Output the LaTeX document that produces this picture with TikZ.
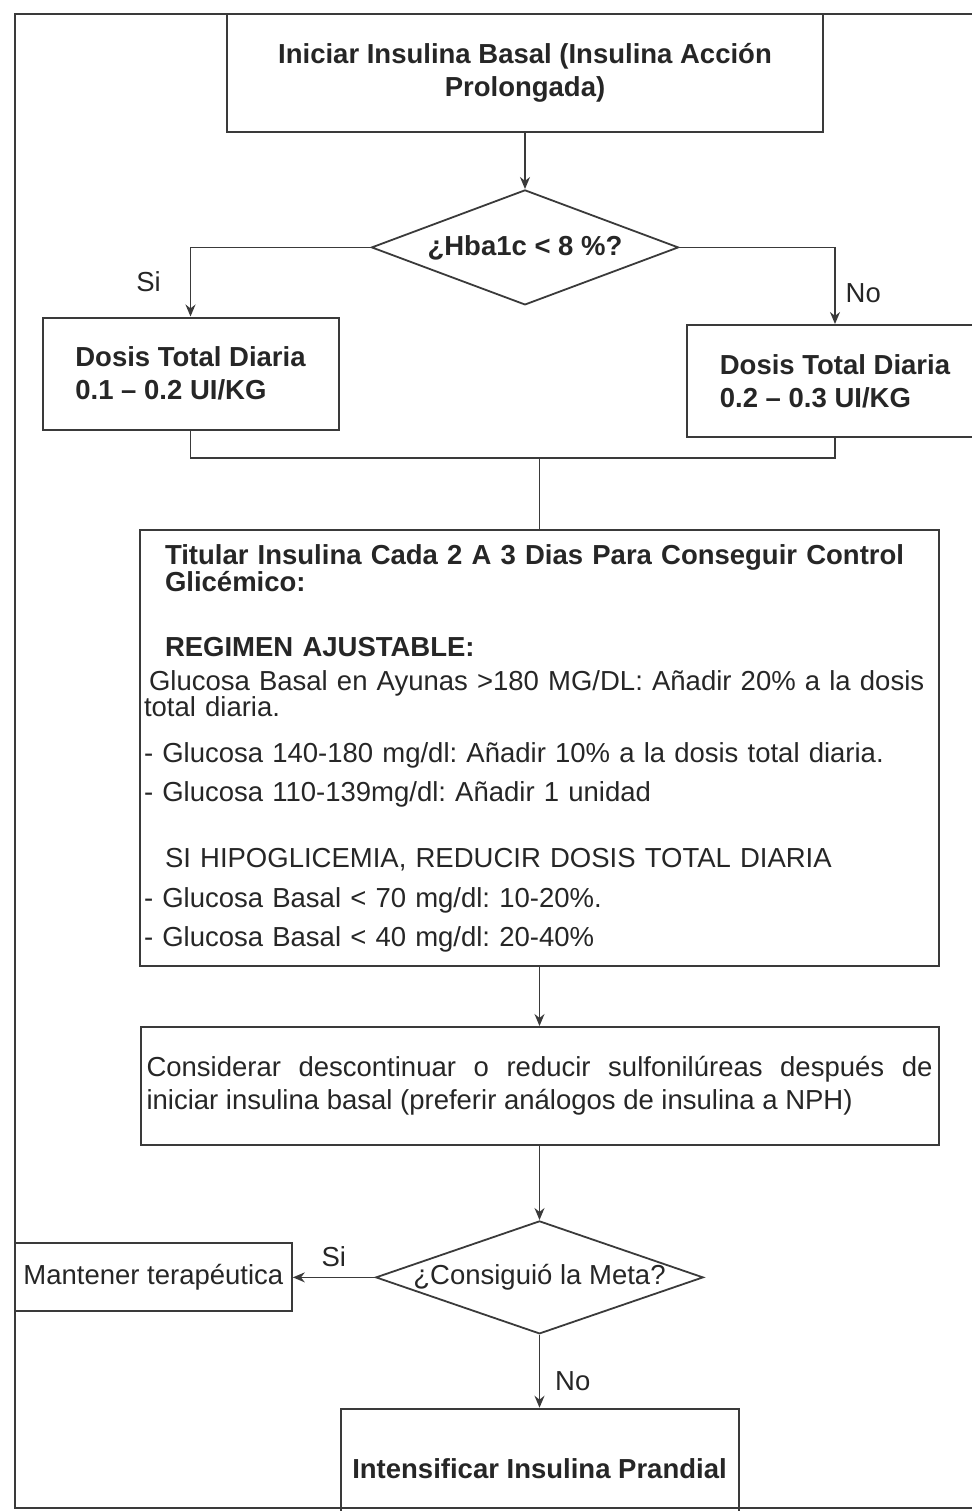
\documentclass[tikz,border=0pt]{standalone}
\usepackage{fontspec}
\setmainfont{Liberation Sans}
\usepackage{tikz}
\usetikzlibrary{arrows.meta,positioning,shapes.geometric}
\definecolor{ink}{HTML}{262626}
\definecolor{edge}{HTML}{3A3A3A}
\newcommand{\flowfont}{\fontsize{13.75}{16.5}\selectfont\frenchspacing}

\begin{document}
\begin{tikzpicture}[
  node distance=30pt and 40pt,
  every node/.style={font=\flowfont,text=ink,align=center},
  box/.style={draw=edge,line width=1pt,inner sep=0pt},
  decision/.style={diamond,draw=edge,line width=0.9pt,inner sep=0pt,aspect=2.9},
  dosebox/.style={box,inner xsep=16pt,align=left,minimum width=148pt,minimum height=56pt},
  label/.style={inner sep=0pt},
  arrow/.style={-{Stealth[length=6pt,width=5pt]},line width=0.7pt,draw=edge},
  line/.style={line width=0.7pt,draw=edge},
  frame/.style={line width=0.9pt,draw=edge}
]
\useasboundingbox (0,0) rectangle (486pt,-755.5pt);
\draw[frame] (486pt,-7pt) -| (7.5pt,-754pt) -- (486pt,-754pt);

\node[box,font=\flowfont\bfseries,minimum width=298pt,minimum height=59pt] (start) at (262.5pt,-36.5pt)
  {Iniciar Insulina Basal (Insulina Acción\\Prolongada)};
\node[decision,font=\flowfont\bfseries,minimum width=153.5pt,minimum height=57.5pt,below=28pt of start] (hba)
  {¿Hba1c < 8 \%?};
\node[dosebox,font=\flowfont\bfseries] (lowdose) at (95.25pt,-186.75pt) {Dosis Total Diaria\\0.1 – 0.2 UI/KG};
\node[dosebox,font=\flowfont\bfseries] (highdose) at (417.5pt,-190.5pt) {Dosis Total Diaria\\0.2 – 0.3 UI/KG};

\node[box,align=left,inner xsep=2pt,text width=395.5pt,minimum width=399.5pt,minimum height=218pt] (titrate) at (269.75pt,-374pt)
  {\hspace*{10.5pt}\textbf{Titular Insulina Cada 2 A 3 Dias Para Conseguir Control}\\[-3pt]
   \hspace*{10.5pt}\textbf{Glicémico:}\\[16pt]
   \hspace*{10.5pt}\textbf{REGIMEN AJUSTABLE:}\\[0.5pt]
   \hspace*{2.5pt}Glucosa Basal en Ayunas >180 MG/DL: Añadir 20\% a la dosis\\[-3.5pt]
   total diaria.\\[6.5pt]
   - Glucosa 140-180 mg/dl: Añadir 10\% a la dosis total diaria.\\[3pt]
   - Glucosa 110-139mg/dl: Añadir 1 unidad\\[16.5pt]
   \hspace*{10.5pt}SI HIPOGLICEMIA, REDUCIR DOSIS TOTAL DIARIA\\[3.5pt]
   - Glucosa Basal < 70 mg/dl: 10-20\%.\\[3pt]
   - Glucosa Basal < 40 mg/dl: 20-40\%};
\node[box,align=justify,inner xsep=3pt,text width=393pt,minimum width=399pt,minimum height=59pt,below=29.5pt of titrate] (consider)
  {Considerar descontinuar o reducir sulfonilúreas después de\linebreak
   iniciar insulina basal (preferir análogos de insulina a NPH)};
\node[decision,minimum width=153pt,minimum height=55pt,below=37pt of consider] (goal) {¿Consiguió la Meta?};
\node[box,minimum width=138.5pt,minimum height=34pt,left=41pt of goal] (keep) {Mantener terapéutica};
\node[box,font=\flowfont\bfseries,minimum width=199pt,minimum height=60pt,below=36.5pt of goal] (intens)
  {Intensificar Insulina Prandial};

\draw[arrow] (start) -- (hba);
\draw[arrow] (hba.west) -| node[label,pos=0.75,left=14.5pt] {Si} (lowdose.north);
\draw[arrow] (hba.east) -| node[label,pos=0.8,right=5pt] {No} (highdose.north);
\coordinate[above=35.5pt of titrate.north] (merge);
\draw[line] (lowdose.south) |- (merge) -| (highdose.south);
\draw[line] (merge) -- (titrate);
\draw[arrow] (titrate) -- (consider);
\draw[arrow] (consider) -- (goal);
\draw[arrow] (goal) -- node[label,above=5pt] {Si} (keep);
\draw[arrow] (goal) -- node[label,pos=0.63,right=7.5pt] {No} (intens);
\end{tikzpicture}
\end{document}
